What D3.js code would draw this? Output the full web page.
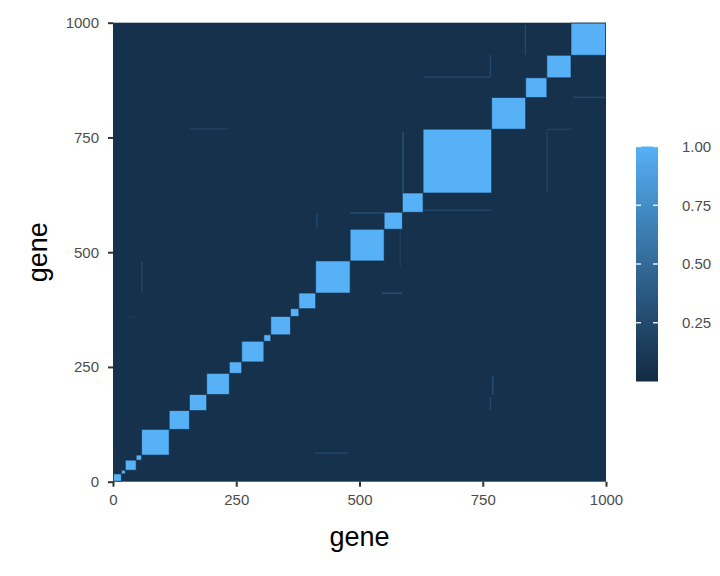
<!DOCTYPE html>
<html>
<head>
<meta charset="utf-8">
<script src="https://cdn.jsdelivr.net/npm/d3@7"></script>
<style>
  body { margin: 0; background: #fff; }
  svg { display: block; font-family: "Liberation Sans", Arial, sans-serif; }
</style>
</head>
<body>
<svg id="chart" width="720" height="576"></svg>
<script>
// gene ranges of the correlated blocks on the diagonal [start, end]
const blocks = [
  [1, 17], [17, 25], [25, 47], [47, 58], [58, 114], [114, 155], [155, 190],
  [190, 236], [236, 261], [261, 306], [306, 320], [320, 360], [360, 377],
  [377, 411], [411, 481], [481, 550], [550, 587], [587, 629], [629, 768],
  [768, 837], [837, 880], [880, 929], [929, 999]
];
const blockValue = 1;
const backgroundValue = 0.05;

// faint off-diagonal streaks: [xStart, xEnd, yStart, yEnd, value]
const streaks = [
  [587, 590, 585, 762, 0.3],
  [481, 582, 584, 587, 0.3],
  [629, 768, 590, 593, 0.25],
  [412, 415, 552, 585, 0.25],
  [630, 765, 880, 883, 0.25],
  [764, 767, 882, 930, 0.25],
  [835, 838, 930, 995, 0.25],
  [933, 998, 836, 839, 0.25],
  [879, 882, 629, 766, 0.2],
  [880, 930, 766, 769, 0.2],
  [545, 586, 409, 412, 0.3],
  [769, 772, 189, 229, 0.3],
  [764, 767, 156, 185, 0.25],
  [410, 477, 61, 64, 0.25],
  [57, 60, 413, 479, 0.25],
  [28, 48, 357, 360, 0.15],
  [156, 233, 767, 770, 0.2],
  [581, 584, 468, 548, 0.15]
];

const axisTicks = [0, 250, 500, 750, 1000];
const legendTicks = [0.25, 0.5, 0.75, 1];

const svg = d3.select("#chart");

const x = d3.scaleLinear().domain([0, 1000]).range([113, 606]);
const y = d3.scaleLinear().domain([0, 1000]).range([481.7, 22.7]);
const color = d3.scaleLinear()
  .domain([0, 1])
  .range(["#132B43", "#56B1F7"])
  .interpolate(d3.interpolateLab);

// panel background (low correlation everywhere)
svg.append("rect")
  .attr("x", x(0))
  .attr("y", y(1000))
  .attr("width", x(1000) - x(0))
  .attr("height", y(0) - y(1000))
  .attr("fill", color(backgroundValue));

svg.append("g")
  .selectAll("rect")
  .data(streaks)
  .join("rect")
  .attr("x", d => x(d[0]))
  .attr("y", d => y(d[3]))
  .attr("width", d => x(d[1]) - x(d[0]))
  .attr("height", d => y(d[2]) - y(d[3]))
  .attr("fill", d => color(d[4]));

svg.append("g")
  .selectAll("rect")
  .data(blocks)
  .join("rect")
  .attr("x", d => x(d[0]))
  .attr("y", d => y(d[1]))
  .attr("width", d => x(d[1]) - x(d[0]))
  .attr("height", d => y(d[0]) - y(d[1]))
  .attr("fill", color(blockValue))
  .attr("stroke", color(0))
  .attr("stroke-opacity", 0.6)
  .attr("stroke-width", 1);

// axes
function styleAxis(g) {
  g.select(".domain").remove();
  g.selectAll(".tick line").attr("stroke", "#333333").attr("stroke-width", 2);
  g.selectAll(".tick text")
    .attr("fill", "#4D4D4D")
    .style("font-size", "15px");
}

svg.append("g")
  .attr("transform", `translate(0,${y(0)})`)
  .call(d3.axisBottom(x).tickValues(axisTicks).tickFormat(d3.format("d")).tickSize(5).tickPadding(8))
  .call(styleAxis);

svg.append("g")
  .attr("transform", `translate(${x(0)},0)`)
  .call(d3.axisLeft(y).tickValues(axisTicks).tickFormat(d3.format("d")).tickSize(5).tickPadding(9))
  .call(styleAxis);

svg.append("text")
  .attr("x", (x(0) + x(1000)) / 2)
  .attr("y", 546)
  .attr("text-anchor", "middle")
  .attr("fill", "#000")
  .style("font-size", "27px")
  .text("gene");

svg.append("text")
  .attr("transform", `translate(47,${(y(0) + y(1000)) / 2}) rotate(-90)`)
  .attr("text-anchor", "middle")
  .attr("fill", "#000")
  .style("font-size", "27px")
  .text("gene");

// colour bar legend
const barX = 636;
const barW = 22;
const ly = d3.scaleLinear().domain([0, 1]).range([381.5, 146.5]);

const grad = svg.append("defs").append("linearGradient")
  .attr("id", "bar")
  .attr("x1", 0).attr("y1", 1).attr("x2", 0).attr("y2", 0);
grad.selectAll("stop")
  .data(d3.range(0, 1.01, 0.1))
  .join("stop")
  .attr("offset", d => d)
  .attr("stop-color", d => color(d));

svg.append("rect")
  .attr("x", barX)
  .attr("y", ly(1))
  .attr("width", barW)
  .attr("height", ly(0) - ly(1))
  .attr("fill", "url(#bar)");

const lt = svg.append("g");
legendTicks.forEach(v => {
  lt.append("line")
    .attr("x1", barX).attr("x2", barX + 5)
    .attr("y1", ly(v)).attr("y2", ly(v))
    .attr("stroke", "#fff").attr("stroke-width", 1.3);
  lt.append("line")
    .attr("x1", barX + barW - 5).attr("x2", barX + barW)
    .attr("y1", ly(v)).attr("y2", ly(v))
    .attr("stroke", "#fff").attr("stroke-width", 1.3);
  lt.append("text")
    .attr("x", 682)
    .attr("y", ly(v))
    .attr("dy", "0.35em")
    .attr("fill", "#4D4D4D")
    .style("font-size", "15px")
    .text(d3.format(".2f")(v));
});
</script>
</body>
</html>
